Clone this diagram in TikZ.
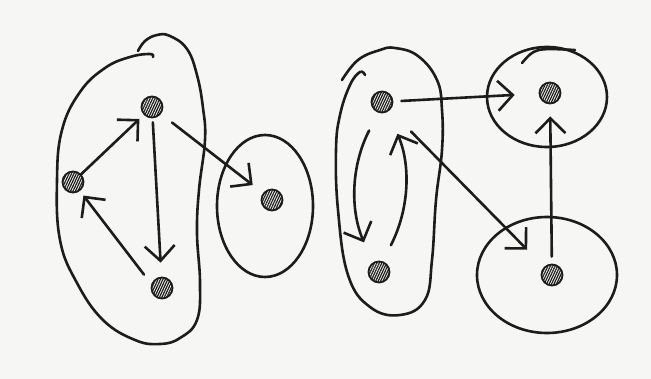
\documentclass[tikz,border=0pt]{standalone}
\usepackage{tikz}
\usetikzlibrary{arrows.meta, patterns.meta}
\definecolor{paper}{RGB}{246, 246, 244}
\definecolor{ink}{RGB}{28, 28, 28}

\begin{document}
\begin{tikzpicture}[x=1pt, y=-1pt, line width=2.6pt, line cap=round, line join=round,
    vertex/.style={circle, draw=ink, line width=1.8pt, minimum size=21pt, inner sep=0pt,
      pattern={Lines[angle=65, distance=2.2pt, line width=1.2pt]}, pattern color=ink},
    link/.style={draw=ink, -{Straight Barb[length=15pt, width=30pt]}}]
        \fill[paper] (0,0) rectangle (651,379);
        \useasboundingbox (0,0) rectangle (651,379);

        \node[vertex] (a) at (73,182) {};
        \node[vertex] (b) at (152,107) {};
        \node[vertex] (c) at (162,288) {};
        \node[vertex] (d) at (272,200) {};
        \node[vertex] (e) at (382,102) {};
        \node[vertex] (f) at (379,272) {};
        \node[vertex] (g) at (550,93) {};
        \node[vertex] (h) at (552,275) {};

        \draw[ink] plot[smooth, tension=0.7] coordinates {(138,51) (145,41) (157,35) (170,36)
          (187,49) (197,75) (203,108) (205,140) (199,190) (197,233) (200,283) (197,320)
          (180,338) (160,344) (135,340) (103,320) (77,283) (60,240) (57,180) (62,130)
          (80,92) (105,68) (130,57) (150,54) (153,57)};
        \draw[ink] (265,206) ellipse [x radius=48pt, y radius=71pt];
        \draw[ink] plot[smooth, tension=0.7] coordinates {(342,80) (358,60) (380,50) (395,48)
          (418,56) (437,80) (442,110) (442,150) (436,200) (432,260) (425,300) (400,315)
          (370,307) (348,275) (338,210) (336,150) (340,115) (350,85) (360,72) (365,75)};
        \draw[ink] (547,97) ellipse [x radius=60pt, y radius=50pt];
        \draw[ink] (522,63) .. controls (535,48) .. (575,50);
        \draw[ink] (547,275) ellipse [x radius=70pt, y radius=58pt];

        \draw[link, shorten >=6pt] (a) -- (b);
        \draw[link, shorten <=4pt, shorten >=14pt] (b) -- (c);
        \draw[link, shorten <=12pt, shorten >=6pt] (c.160) -- (a);
        \draw[link, shorten <=14pt, shorten >=13pt] (b) -- (d);
        \draw[link, shorten <=8pt, shorten >=24pt] (e) -- (g);
        \draw[link, shorten <=30pt, shorten >=24pt] (e) -- (h);
        \draw[link, shorten <=7pt, shorten >=12pt] (h) -- (g);
        \draw[link, shorten <=20pt, shorten >=22pt] (e.251) to[bend right=25] (f.125);
        \draw[link, shorten <=18pt, shorten >=24pt] (f.71) to[bend right=25] (e.302);
      \end{tikzpicture}
\end{document}
